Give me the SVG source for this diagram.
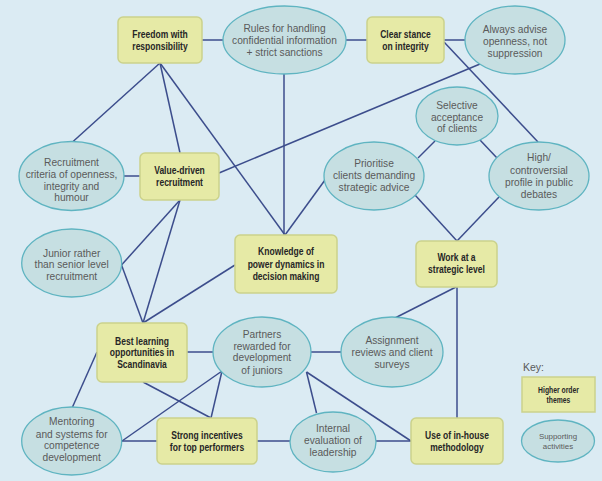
<svg xmlns="http://www.w3.org/2000/svg" width="602" height="481" viewBox="0 0 602 481">
<style>
.box{fill:#e6eaa6;stroke:#cbd28c;stroke-width:1.5}
.ell{fill:#c6dfe2;stroke:#5fb4c1;stroke-width:1.3}
.bt{font-family:"Liberation Sans",Arial,sans-serif;font-weight:bold;font-size:10.4px;fill:#262626;text-anchor:middle}
.et{font-family:"Liberation Sans",Arial,sans-serif;font-size:10.2px;fill:#5a5a5a;text-anchor:middle}
.ln line{stroke:#3c4d8c;stroke-width:1.5}
</style>
<rect width="602" height="481" fill="#dbebf3"/>
<g id="connectors" class="ln">
<line x1="202" y1="40" x2="223" y2="40"/>
<line x1="346" y1="40" x2="367" y2="40"/>
<line x1="444" y1="40" x2="465" y2="40"/>
<line x1="160" y1="63" x2="72.5" y2="142"/>
<line x1="160" y1="63" x2="180" y2="153"/>
<line x1="160" y1="63" x2="285" y2="235"/>
<line x1="284" y1="74" x2="284" y2="235"/>
<line x1="480" y1="64" x2="219" y2="173"/>
<line x1="444" y1="42" x2="538" y2="142"/>
<line x1="435" y1="141" x2="418" y2="158"/>
<line x1="480" y1="140" x2="497" y2="158"/>
<line x1="325" y1="180" x2="285" y2="235"/>
<line x1="415" y1="195" x2="457" y2="241"/>
<line x1="499" y1="197" x2="457" y2="241"/>
<line x1="124" y1="176" x2="140" y2="176"/>
<line x1="180" y1="200" x2="121.5" y2="265"/>
<line x1="180" y1="200" x2="143" y2="323"/>
<line x1="121.5" y1="265" x2="143" y2="323"/>
<line x1="235" y1="265" x2="143" y2="323"/>
<line x1="187" y1="352" x2="213" y2="352"/>
<line x1="97" y1="352" x2="72.5" y2="407"/>
<line x1="143" y1="382" x2="211" y2="418"/>
<line x1="222" y1="371" x2="122" y2="441"/>
<line x1="222" y1="371" x2="211" y2="418"/>
<line x1="122" y1="441" x2="157" y2="441"/>
<line x1="257" y1="441" x2="290" y2="441"/>
<line x1="311" y1="352" x2="341" y2="352"/>
<line x1="306.5" y1="372" x2="316.5" y2="413"/>
<line x1="306.5" y1="372" x2="411" y2="441"/>
<line x1="376" y1="441" x2="411" y2="441"/>
<line x1="456" y1="287" x2="395" y2="318"/>
<line x1="457" y1="287" x2="457" y2="418"/>
</g>
<g id="freedom"><rect class="box" x="118" y="17" width="84" height="46" rx="5"/><g transform="translate(160 0) scale(0.82 1)"><text class="bt" x="0" y="38">Freedom with</text><text class="bt" x="0" y="50">responsibility</text></g></g>
<g id="rules"><ellipse class="ell" cx="284.5" cy="40" rx="61.5" ry="34"/><text class="et" x="284.5" y="31.5">Rules for handling</text><text class="et" x="284.5" y="43.5">confidential information</text><text class="et" x="284.5" y="55.5">+ strict sanctions</text></g>
<g id="clear"><rect class="box" x="367" y="17" width="77" height="46" rx="5"/><g transform="translate(405.5 0) scale(0.82 1)"><text class="bt" x="0" y="38.5">Clear stance</text><text class="bt" x="0" y="50.5">on integrity</text></g></g>
<g id="always"><ellipse class="ell" cx="515" cy="40" rx="50" ry="34"/><text class="et" x="515" y="33">Always advise</text><text class="et" x="515" y="45">openness, not</text><text class="et" x="515" y="56.5">suppression</text></g>
<g id="selective"><ellipse class="ell" cx="457" cy="116" rx="41" ry="29"/><text class="et" x="457" y="108.5">Selective</text><text class="et" x="457" y="120.5">acceptance</text><text class="et" x="457" y="132">of clients</text></g>
<g id="recruitment"><ellipse class="ell" cx="71.5" cy="176" rx="52.5" ry="34.5"/><text class="et" x="71.5" y="165.5">Recruitment</text><text class="et" x="71.5" y="177.5">criteria of openness,</text><text class="et" x="71.5" y="189.5">integrity and</text><text class="et" x="71.5" y="201">humour</text></g>
<g id="value-driven"><rect class="box" x="140" y="153" width="79" height="47" rx="5"/><g transform="translate(179.5 0) scale(0.82 1)"><text class="bt" x="0" y="174.5">Value-driven</text><text class="bt" x="0" y="186.5">recruitment</text></g></g>
<g id="prioritise"><ellipse class="ell" cx="374" cy="176" rx="50" ry="34"/><text class="et" x="374" y="167">Prioritise</text><text class="et" x="374" y="179">clients demanding</text><text class="et" x="374" y="190.5">strategic advice</text></g>
<g id="high"><ellipse class="ell" cx="539" cy="176" rx="50" ry="34"/><text class="et" x="539" y="161">High/</text><text class="et" x="539" y="173.5">controversial</text><text class="et" x="539" y="186">profile in public</text><text class="et" x="539" y="197.5">debates</text></g>
<g id="junior"><ellipse class="ell" cx="71.7" cy="263" rx="50" ry="34"/><text class="et" x="71.7" y="256.5">Junior rather</text><text class="et" x="71.7" y="268">than senior level</text><text class="et" x="71.7" y="279.5">recruitment</text></g>
<g id="knowledge"><rect class="box" x="235" y="235" width="102" height="58" rx="5"/><g transform="translate(286 0) scale(0.82 1)"><text class="bt" x="0" y="255.5">Knowledge of</text><text class="bt" x="0" y="268">power dynamics in</text><text class="bt" x="0" y="280">decision making</text></g></g>
<g id="work"><rect class="box" x="416" y="241" width="81" height="46" rx="5"/><g transform="translate(456.5 0) scale(0.82 1)"><text class="bt" x="0" y="261">Work at a</text><text class="bt" x="0" y="273">strategic level</text></g></g>
<g id="best"><rect class="box" x="97" y="323" width="90" height="59" rx="5"/><g transform="translate(142 0) scale(0.82 1)"><text class="bt" x="0" y="344.7">Best learning</text><text class="bt" x="0" y="356.5">opportunities in</text><text class="bt" x="0" y="368">Scandinavia</text></g></g>
<g id="partners"><ellipse class="ell" cx="262" cy="352" rx="49" ry="35"/><text class="et" x="262" y="338">Partners</text><text class="et" x="262" y="349.7">rewarded for</text><text class="et" x="262" y="361.4">development</text><text class="et" x="262" y="373.5">of juniors</text></g>
<g id="assignment"><ellipse class="ell" cx="392" cy="352" rx="51" ry="35"/><text class="et" x="392" y="344.4">Assignment</text><text class="et" x="392" y="356.4">reviews and client</text><text class="et" x="392" y="368">surveys</text></g>
<g id="mentoring"><ellipse class="ell" cx="71.7" cy="441" rx="50" ry="34"/><text class="et" x="71.7" y="425.4">Mentoring</text><text class="et" x="71.7" y="437.7">and systems for</text><text class="et" x="71.7" y="449.4">competence</text><text class="et" x="71.7" y="461">development</text></g>
<g id="strong"><rect class="box" x="157" y="418" width="100" height="46" rx="5"/><g transform="translate(207 0) scale(0.82 1)"><text class="bt" x="0" y="439.4">Strong incentives</text><text class="bt" x="0" y="451">for top performers</text></g></g>
<g id="internal"><ellipse class="ell" cx="333" cy="442" rx="43" ry="30"/><text class="et" x="333" y="432">Internal</text><text class="et" x="333" y="443.7">evaluation of</text><text class="et" x="333" y="456">leadership</text></g>
<g id="use"><rect class="box" x="411" y="418" width="92" height="46" rx="5"/><g transform="translate(457 0) scale(0.82 1)"><text class="bt" x="0" y="439.4">Use of in-house</text><text class="bt" x="0" y="451.4">methodology</text></g></g>
<g id="key">
<text x="523" y="371" style="font-family:'Liberation Sans',Arial,sans-serif;font-size:10.5px;fill:#5a5a5a">Key:</text>
<rect class="box" x="522" y="377" width="73" height="35"/>
<g transform="translate(558.5 0) scale(0.82 1)"><text class="bt" x="0" y="393" style="font-size:8.3px">Higher order</text><text class="bt" x="0" y="403" style="font-size:8.3px">themes</text></g>
<ellipse class="ell" cx="558" cy="441" rx="36.5" ry="21"/>
<text class="et" x="558" y="439" style="font-size:7.9px">Supporting</text>
<text class="et" x="558" y="449" style="font-size:7.9px">activities</text>
</g>
</svg>
